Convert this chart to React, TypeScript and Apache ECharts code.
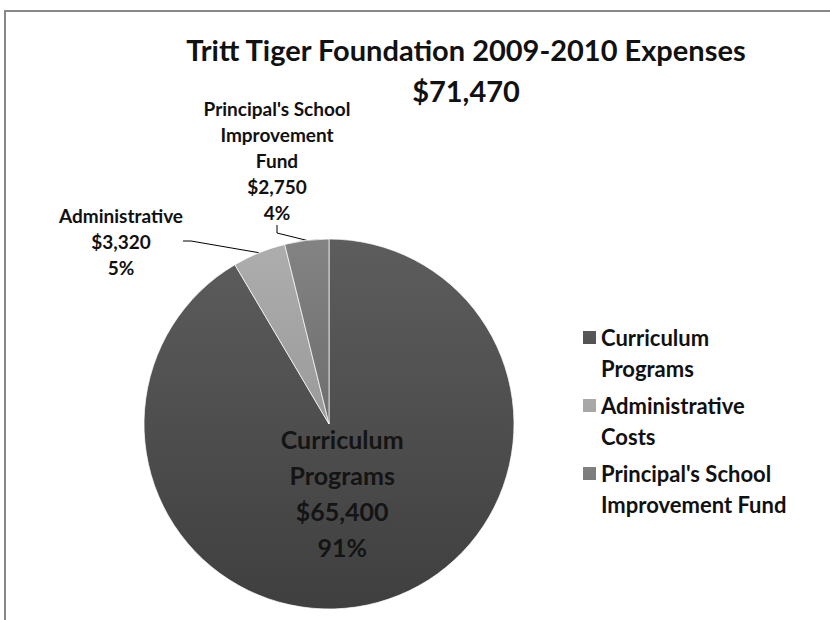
import React, { useEffect, useRef } from "react";
import * as echarts from "echarts";

const categories = ["Curriculum Programs", "Administrative Costs", "Principal's School Improvement Fund"];
const legendLabels = ["Curriculum\nPrograms", "Administrative\nCosts", "Principal's School\nImprovement Fund"];
const sliceLabels = ["Curriculum\nPrograms", "Administrative", "Principal's School\nImprovement\nFund"];
const values = [65400, 3320, 2750];
const titleText = "Tritt Tiger Foundation 2009-2010 Expenses";

const FONT = "Lato, 'Open Sans', sans-serif";

const grad = (a: string, b: string) =>
  new echarts.graphic.LinearGradient(0, 0, 0, 1, [
    { offset: 0, color: a },
    { offset: 1, color: b },
  ]);

const sliceColors = [
  ["#5d5d5d", "#3f3f3f"],
  ["#adadad", "#9a9a9a"],
  ["#838383", "#6e6e6e"],
];

// legend square drawn at the first text line of a two-line legend entry
const LEGEND_ICON = "path://M0,0L0.01,0M0,9L13,9L13,22L0,22ZM0,62L0.01,62";

const money = (v: number) => "$" + v.toLocaleString("en-US");

export default function App() {
  const ref = useRef<HTMLDivElement>(null);
  useEffect(() => {
    if (!ref.current) return;
    const chart = echarts.init(ref.current, undefined, { renderer: "svg" });
    const total = values.reduce((s, v) => s + v, 0);
    const data = categories.map((name, i) => ({
      name,
      value: values[i],
      itemStyle: { color: grad(sliceColors[i][0], sliceColors[i][1]) },
      label:
        i === 0
          ? {
              position: "inside",
              fontSize: 25,
              fontWeight: "bold",
              lineHeight: 36,
              color: "#141414",
            }
          : {
              position: "outside",
              fontSize: 19,
              fontWeight: "bold",
              lineHeight: 26,
              color: "#111",
            },
    }));
    chart.setOption({
      animation: false,
      backgroundColor: "#fff",
      textStyle: { fontFamily: FONT },
      title: {
        text: titleText,
        subtext: money(total),
        left: 461,
        top: 30,
        textAlign: "center",
        itemGap: 12,
        textStyle: { fontFamily: FONT, fontSize: 29, fontWeight: "bold", color: "#111" },
        subtextStyle: { fontFamily: FONT, fontSize: 29, fontWeight: "bold", color: "#111" },
      },
      legend: {
        orient: "vertical",
        left: 583,
        top: 322,
        padding: 0,
        itemWidth: 13,
        itemHeight: 62,
        itemGap: 6,
        icon: LEGEND_ICON,
        itemStyle: { borderWidth: 0 },
        selectedMode: false,
        data: categories,
        formatter: (name: string) => legendLabels[categories.indexOf(name)],
        textStyle: {
          fontFamily: FONT,
          fontSize: 22,
          fontWeight: "bold",
          lineHeight: 31,
          color: "#111",
        },
      },
      graphic: [
        {
          type: "rect",
          shape: { x: 5, y: 11, width: 900, height: 700 },
          style: { fill: "none", stroke: "#888", lineWidth: 2 },
          silent: true,
        },
      ],
      series: [
        {
          type: "pie",
          center: [329, 424],
          radius: 185,
          startAngle: 90,
          clockwise: true,
          percentPrecision: 0,
          itemStyle: { borderColor: "rgba(255,255,255,0.7)", borderWidth: 1 },
          label: {
            fontFamily: FONT,
            formatter: (p: any) => `${sliceLabels[p.dataIndex]}\n${money(p.value)}\n${p.percent}%`,
          },
          labelLine: { show: true, length: 10, length2: 8, lineStyle: { color: "#000", width: 1 } },
          labelLayout: (p: any) => {
            if (p.dataIndex === 0) return { dx: -12, dy: -23 };
            if (p.dataIndex === 1) return { x: 121, y: 241, align: "center", verticalAlign: "middle" };
            return { x: 277, y: 160, align: "center", verticalAlign: "middle" };
          },
          emphasis: { disabled: true },
          data,
        },
      ],
    });
    return () => chart.dispose();
  }, []);
  return (
    <div
      ref={ref}
      style={{ position: "fixed", left: 0, top: 0, width: 830, height: 620 }}
    />
  );
}
